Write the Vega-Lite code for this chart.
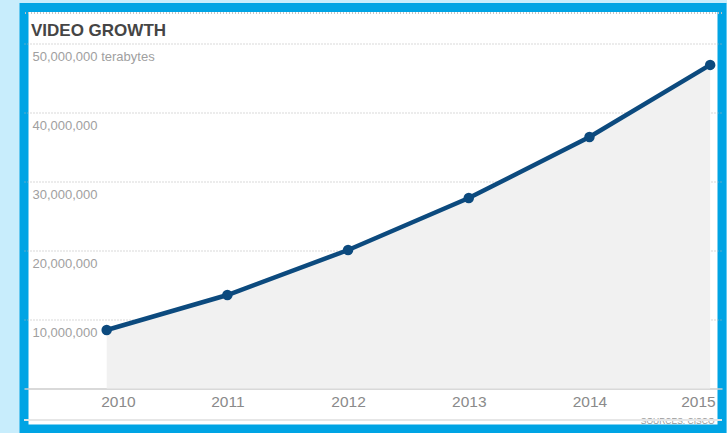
{
  "$schema": "https://vega.github.io/schema/vega-lite/v6.json",
  "autosize": {"type": "none"},
  "width": 698,
  "height": 421.5,
  "padding": {"left": 24, "top": 7.5, "right": 5, "bottom": 4},
  "background": "#c8edfc",
  "data": {
    "values": [
      {"year": 2010, "terabytes": 8480000},
      {"year": 2011, "terabytes": 13550000},
      {"year": 2012, "terabytes": 20070000},
      {"year": 2013, "terabytes": 27600000},
      {"year": 2014, "terabytes": 36450000},
      {"year": 2015, "terabytes": 46900000}
    ]
  },
  "encoding": {
    "x": {
      "field": "year",
      "type": "quantitative",
      "scale": {"domain": [2009.315, 2015.098], "nice": false, "zero": false},
      "axis": {
        "values": [2010, 2011, 2012, 2013, 2014, 2015],
        "format": "d",
        "orient": "bottom",
        "offset": -40.5,
        "grid": false,
        "ticks": false,
        "domain": true,
        "domainColor": "#cccccc",
        "domainWidth": 1.5,
        "labelFont": "Liberation Sans",
        "labelFontSize": 15.5,
        "labelColor": "#8a8a8a",
        "labelPadding": 6,
        "labelAlign": {
          "condition": [
            {"test": "datum.value == 2010", "value": "left"},
            {"test": "datum.value == 2015", "value": "right"}
          ],
          "value": "center"
        },
        "labelOffset": {
          "condition": [
            {"test": "datum.value == 2010", "value": -6},
            {"test": "datum.value == 2015", "value": 5}
          ],
          "value": 0
        },
        "title": "SOURCES: CISCO",
        "titleFont": "Liberation Sans",
        "titleFontSize": 8.5,
        "titleFontWeight": "normal",
        "titleColor": "#999999",
        "titleAlign": "right",
        "titleBaseline": "alphabetic",
        "titleAnchor": "end",
        "titleX": 690,
        "titleY": 34.5
      }
    },
    "y": {
      "field": "terabytes",
      "type": "quantitative",
      "scale": {"domain": [-5870000, 55217000], "nice": false, "zero": false},
      "axis": {
        "values": [10000000, 20000000, 30000000, 40000000, 50000000],
        "format": ",.0f",
        "labelExpr": "datum.value == 50000000 ? datum.label + '  terabytes' : datum.label",
        "orient": "left",
        "offset": -8,
        "domain": false,
        "ticks": false,
        "grid": true,
        "gridColor": "#b3b3b3",
        "gridDash": [1, 2],
        "gridWidth": 1,
        "labelAlign": "left",
        "labelBaseline": "top",
        "labelOffset": 7,
        "labelPadding": 0,
        "labelFont": "Liberation Sans",
        "labelFontSize": 13,
        "labelColor": "#a0a0a0",
        "title": "VIDEO GROWTH",
        "titleAngle": 0,
        "titleX": -1.5,
        "titleY": 27.5,
        "titleAlign": "left",
        "titleBaseline": "alphabetic",
        "titleFont": "Liberation Sans",
        "titleFontSize": 17,
        "titleFontWeight": "bold",
        "titleColor": "#454545"
      }
    }
  },
  "layer": [
    {
      "mark": {"type": "area", "color": "#f1f1f1"},
      "encoding": {"y2": {"datum": 0}}
    },
    {
      "mark": {"type": "rule", "color": "#e6e6e6", "strokeWidth": 1},
      "encoding": {"x": null, "y": {"datum": -4560000}}
    },
    {
      "mark": {"type": "rule", "color": "#c4c4c4", "strokeWidth": 1, "strokeDash": [1, 2]},
      "encoding": {"x": null, "y": {"datum": 54400000}}
    },
    {
      "mark": {"type": "line", "color": "#0c4a7e", "strokeWidth": 4.5}
    },
    {
      "mark": {"type": "point", "filled": true, "color": "#0c4a7e", "size": 110, "opacity": 1}
    }
  ],
  "config": {
    "view": {"fill": "#ffffff", "stroke": "#00a4e4", "strokeWidth": 9}
  }
}
